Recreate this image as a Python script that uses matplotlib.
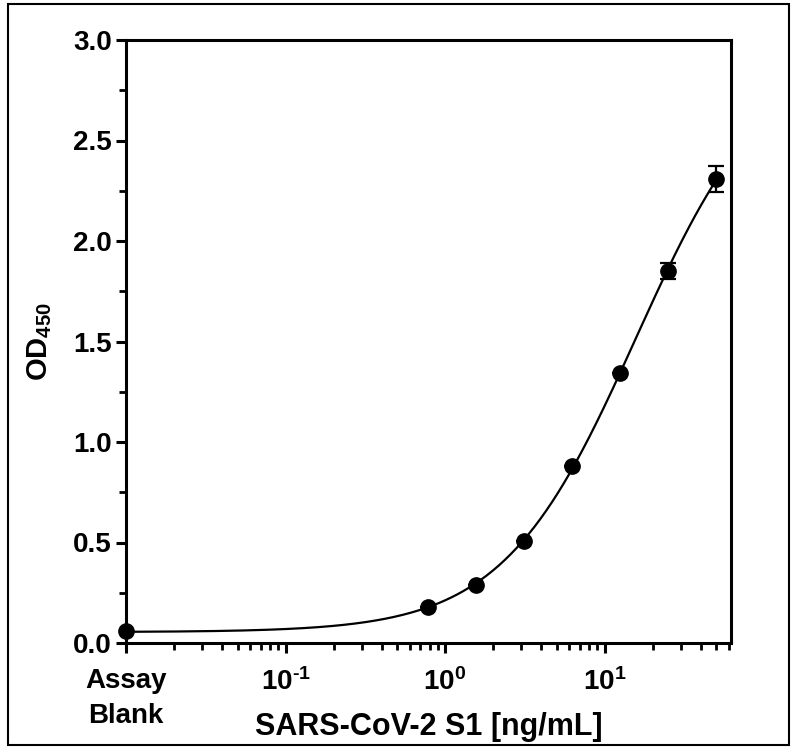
import numpy as np
import matplotlib
matplotlib.use("Agg")
import matplotlib.pyplot as plt
from matplotlib.ticker import FixedLocator, FixedFormatter, MultipleLocator
from matplotlib.patches import Rectangle

plt.rcParams['font.family'] = ['Liberation Sans', 'DejaVu Sans']
plt.rcParams['font.weight'] = 'bold'
plt.rcParams['mathtext.fontset'] = 'custom'
plt.rcParams['mathtext.rm'] = 'Liberation Sans:bold'
plt.rcParams['mathtext.bf'] = 'Liberation Sans:bold'
plt.rcParams['mathtext.it'] = 'Liberation Sans:bold'

# data
blank_x = 0.01
blank_y = 0.06
conc = [0.78125, 1.5625, 3.125, 6.25, 12.5, 25, 50]
od = [0.179, 0.289, 0.507, 0.881, 1.343, 1.851, 2.308]
od_err = [0.0, 0.0, 0.0, 0.0, 0.0, 0.04, 0.065]

x_ticks = [0.01, 0.1, 1, 10]
x_ticklabels = ['Assay\nBlank', r'10$^{\text{-1}}$', r'10$^{0}$', r'10$^{1}$']

# 4PL fit of the standards (grid over EC50 and slope, linear for bottom/top)
xs = np.array([blank_x] + conc)
ys = np.array([blank_y] + od)
best = None
for c in np.logspace(0, 3, 400):
    for b in np.linspace(0.5, 2.5, 201):
        g = 1.0 / (1.0 + (xs / c) ** b)
        A = np.column_stack([g, 1 - g])
        coef, *_ = np.linalg.lstsq(A, ys, rcond=None)
        r = np.sum((A @ coef - ys) ** 2)
        if best is None or r < best[0]:
            best = (r, c, b, coef)
_, c, b, (bottom, top) = best
xf = np.logspace(np.log10(blank_x), np.log10(50), 400)
yf = top + (bottom - top) / (1 + (xf / c) ** b)

fig = plt.figure(figsize=(7.91, 7.47), dpi=100)
ax = fig.add_axes([126 / 791, 1 - 643 / 747, (731 - 126) / 791, (643 - 40) / 747])

ax.plot(xf, yf, color='black', lw=1.6, zorder=2)
ax.errorbar(conc, od, yerr=od_err, fmt='o', color='black', ms=11,
            capsize=6, elinewidth=1.6, capthick=1.6, zorder=3, clip_on=False)
ax.plot([blank_x], [blank_y], 'o', color='black', ms=11, clip_on=False, zorder=4)

ax.set_xscale('log')
ax.set_xlim(0.01, 62)
ax.set_ylim(0, 3.0)

ax.xaxis.set_major_locator(FixedLocator(x_ticks))
ax.xaxis.set_major_formatter(FixedFormatter(x_ticklabels))
minors = [m * 10.0 ** e for e in range(-2, 2) for m in range(2, 10)]
minors = [v for v in minors if v <= 62]
ax.xaxis.set_minor_locator(FixedLocator(minors))
ax.xaxis.set_minor_formatter(FixedFormatter([''] * len(minors)))

ax.yaxis.set_major_locator(MultipleLocator(0.5))
ax.yaxis.set_minor_locator(MultipleLocator(0.25))
ax.yaxis.set_major_formatter(plt.FuncFormatter(lambda v, p: f'{v:.1f}'))

for s in ax.spines.values():
    s.set_linewidth(2.2)
ax.tick_params(which='major', length=7, width=2.2, labelsize=20, pad=3)
ax.tick_params(axis='x', which='major', pad=11)
ax.tick_params(which='minor', length=5, width=2.0)
for lab in ax.get_xticklabels() + ax.get_yticklabels():
    lab.set_fontweight('bold')
for lab in ax.get_xticklabels():
    lab.set_linespacing(1.45)

ax.set_xlabel('SARS-CoV-2 S1 [ng/mL]', fontsize=22, fontweight='bold', labelpad=-12)
ax.set_ylabel(r'OD$_{450}$', fontsize=21, fontweight='bold', labelpad=14)

fig.add_artist(Rectangle((8 / 791, 2 / 747), 781 / 791, 741 / 747,
                         transform=fig.transFigure, fill=False, lw=1.5, ec='black'))

fig.savefig('out.png', dpi=100)
